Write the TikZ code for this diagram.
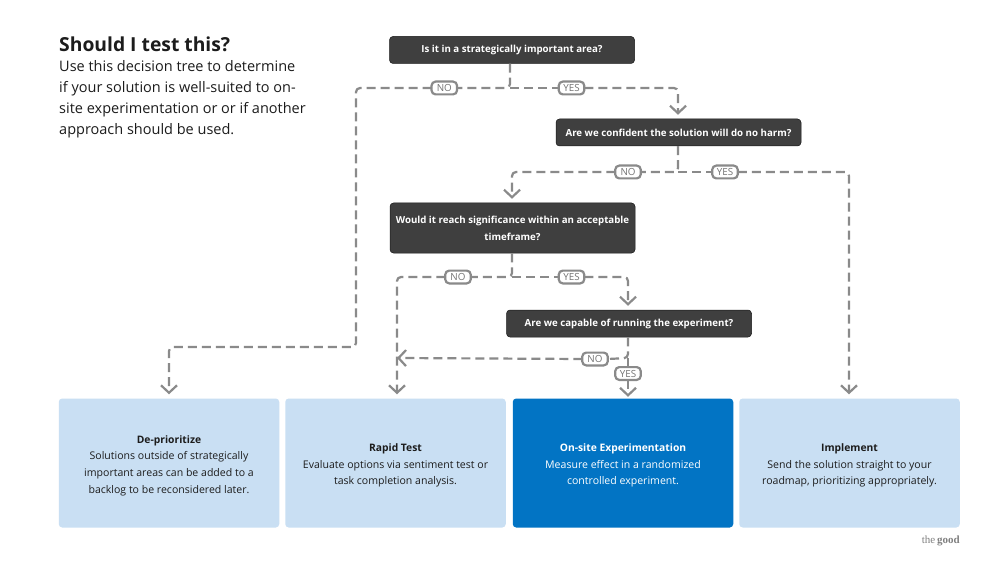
\documentclass[tikz,border=0pt]{standalone}
\usepackage{fontspec}
\setmainfont{Open Sans}
\newfontfamily\logofont{Liberation Serif}
\usetikzlibrary{arrows.meta}
\definecolor{darkbox}{HTML}{3F3F3F}
\definecolor{lightbox}{HTML}{C9DFF3}
\definecolor{bluebox}{HTML}{0274C4}
\definecolor{linegray}{HTML}{8A8A8A}
\definecolor{inktext}{HTML}{1C1C1C}
\tikzset{
  q/.style={fill=darkbox,draw=black!90,line width=.5pt,rounded corners=3.5pt,text=white,font=\fontsize{9.7}{17}\selectfont\bfseries,align=center,inner sep=0pt,minimum width=245pt,minimum height=#1},
  q/.default=27pt,
  res/.style={fill=lightbox,rounded corners=3.5pt,text=inktext,font=\fontsize{10.55}{16.6}\selectfont,align=center,inner sep=0pt,minimum width=220.5pt,minimum height=129pt},
  conn/.style={draw=linegray,line width=2.2pt,dash pattern=on 9pt off 5pt,rounded corners=4pt},
  arr/.style={conn,-{Straight Barb[length=7.5pt,width=16pt,line width=2.2pt]}},
  lab/.style={draw=linegray,line width=2.2pt,fill=white,rounded corners=4pt,text=black!55,font=\fontsize{9.8}{10}\selectfont,inner sep=0pt,minimum height=12.8pt,minimum width=25.5pt,outer sep=0pt}
}
\newcommand{\headtxt}[1]{{\fontsize{10.3}{16.6}\selectfont\bfseries\rule{0pt}{13pt}#1}}
\begin{document}
\begin{tikzpicture}[x=1pt,y=-1pt]
\useasboundingbox (0,0) rectangle (1000,569);
\fill[white] (0,0) rectangle (1000,569);

\node[anchor=west,inner sep=0pt,text=inktext,font=\fontsize{19.3}{24}\selectfont\bfseries] (title) at (59,44) {Should I test this?};
\node[anchor=north west,align=left,inner sep=0pt,text=inktext,font=\fontsize{14.5}{21}\selectfont] (intro) at (59,60) {Use this decision tree to determine\\if your solution is well-suited to on-\\site experimentation or or if another\\approach should be used.};

\node[q] (a) at (512,50) {Is it in a strategically important area?};
\node[q] (b) at (678.5,132.5) {Are we confident the solution will do no harm?};
\node[q=50pt] (c) at (512.5,228) {Would it reach significance within an acceptable\\timeframe?};
\node[q] (d) at (629,323.5) {Are we capable of running the experiment?};

\node[res] (r1) at (169,463) {\headtxt{De-prioritize}\\Solutions outside of strategically\\important areas can be added to a\\backlog to be reconsidered later.};
\node[res] (r2) at (395.5,463) {\headtxt{Rapid Test}\\Evaluate options via sentiment test or\\task completion analysis.};
\node[res,fill=bluebox,text=white] (r3) at (623,463) {\headtxt{On-site Experimentation}\\Measure effect in a randomized\\controlled experiment.};
\node[res] (r4) at (849.5,463) {\headtxt{Implement}\\Send the solution straight to your\\roadmap, prioritizing appropriately.};

\node[lab] (no1) at (444.3,88) {NO};
\node[lab] (yes1) at (571.5,88) {YES};
\node[lab] (no2) at (628,172) {NO};
\node[lab] (yes2) at (725,172) {YES};
\node[lab] (no3) at (458,277) {NO};
\node[lab] (yes3) at (571.5,277) {YES};
\node[lab] (no4) at (595,359) {NO};
\node[lab] (yes4) at (628,373.5) {YES};

\coordinate (j1) at (510,88);
\coordinate (j2) at (678,172);
\coordinate (j3) at (512,277);
\coordinate (j4) at (628,358);
\coordinate (t4) at (397,358);
\coordinate (c1a) at (356,88);
\coordinate (c1b) at (356,347);
\coordinate (c1c) at (169,347);
\coordinate (c2) at (678,88);
\coordinate (c3) at (512,172);
\coordinate (c4) at (849,172);
\coordinate (c5) at (397,277);
\coordinate (c6) at (628,277);

% first question
\draw[conn] (j1 |- a.south) -- (j1) -- (no1.east);
\draw[conn] (j1) -- (yes1.west);
\draw[arr] (no1.west) -- (c1a) -- (c1b) -- (c1c) -- ([yshift=4pt]r1.north);
\draw[arr] (yes1.east) -- (c2) -- ([yshift=4pt]j2 |- b.north);
% second question
\draw[conn] (j2 |- b.south) -- (j2) -- (no2.east);
\draw[conn] (j2) -- (yes2.west);
\draw[arr] (no2.west) -- (c3) -- ([yshift=4pt]j3 |- c.north);
\draw[arr] (yes2.east) -- (c4) -- ([yshift=4pt]c4 |- r4.north);
% third question
\draw[conn] (j3 |- c.south) -- (j3) -- (no3.east);
\draw[conn] (j3) -- (yes3.west);
\draw[arr] (no3.west) -- (c5) -- ([yshift=4pt]c5 |- r2.north);
\draw[arr] (yes3.east) -- (c6) -- ([yshift=4pt]j4 |- d.north);
% fourth question
\draw[conn] (j4 |- d.south) -- (j4) -- (no4.east);
\draw[conn] (j4) -- (yes4.north);
\draw[arr] (no4.west) -- (t4);
\draw[arr] (yes4.south) -- ([yshift=1.5pt]j4 |- r3.north);

\node[anchor=east,inner sep=0pt,text=black!50,font=\fontsize{11}{12}\selectfont\logofont] (logo) at (960,541) {the\,\textbf{good}};
\end{tikzpicture}
\end{document}
